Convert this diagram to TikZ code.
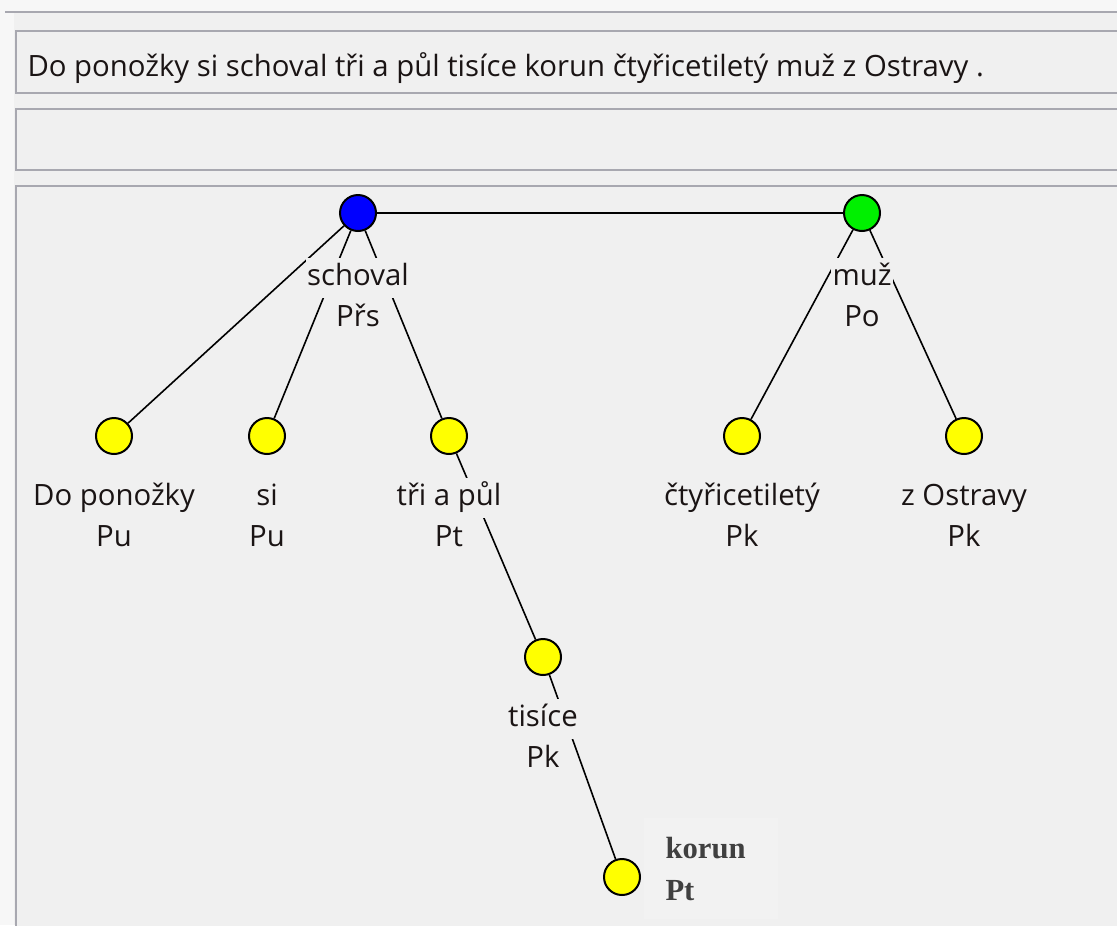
\documentclass[tikz,border=0pt]{standalone}
\usepackage{fontspec}
\usetikzlibrary{positioning}
\setmainfont{Open Sans}
\newfontfamily\boldserif{Liberation Serif}
\definecolor{panelgray}{HTML}{F0F0F0}
\definecolor{outergray}{HTML}{F7F7F7}
\definecolor{framegray}{HTML}{A8A8B0}
\definecolor{textdark}{HTML}{1A1414}
\definecolor{korungray}{HTML}{404040}
\definecolor{dotblue}{HTML}{0000FF}
\definecolor{dotgreen}{HTML}{00F000}
\definecolor{dotyellow}{HTML}{FFFF00}

\tikzset{every picture/.style={line width=0.75pt},
  panel/.style={draw=framegray,line width=2.2pt,fill=panelgray},
  dot/.style={circle,draw=black,line width=1.5pt,inner sep=0pt,minimum size=27pt},
  tree edge/.style={draw=black,line width=1.2pt},
  wlabel/.style={fill=panelgray,inner xsep=1pt,inner ysep=4.5pt,text=textdark,
    text height=16pt,text depth=5pt,font=\fontsize{22}{26}\selectfont},
}

\begin{document}
\begin{tikzpicture}[x=0.75pt,y=0.75pt,yscale=-1,xscale=1]
\useasboundingbox (0,0) rectangle (1117,925);

%Shape: background
\fill [outergray] (0,0) rectangle (1117,925);
\fill [panelgray] (14,13) rectangle (1117,925);
\draw [framegray,line width=2.2pt] (5,12) -- (1117,12);
%Shape: sentence box
\draw [panel] (16,31) -- (1120,31) -- (1120,93) -- (16,93) -- cycle;
%Shape: empty box
\draw [panel] (16,109) -- (1120,109) -- (1120,170) -- (16,170) -- cycle;
%Shape: tree panel
\draw [panel] (16,186) -- (1120,186) -- (1120,930) -- (16,930) -- cycle;

% Text Node
\node [anchor=west,inner sep=0pt,text=textdark,font=\fontsize{22}{26}\selectfont] (sentence) at (27,68)
  {Do ponožky si schoval tři a půl tisíce korun čtyřicetiletý muž z Ostravy .};

%Dots
\node [dot,fill=dotblue] (schoval) at (358,213) {};
\node [dot,fill=dotgreen] (muz) at (862,213) {};
\node [dot,fill=dotyellow] (doponozky) at (114,436) {};
\node [dot,fill=dotyellow] (si) at (267,436) {};
\node [dot,fill=dotyellow] (triapul) at (449,436) {};
\node [dot,fill=dotyellow] (ctyricetilety) at (742,436) {};
\node [dot,fill=dotyellow] (zostravy) at (964,436) {};
\node [dot,fill=dotyellow] (tisice) at (543,657) {};
\node [dot,fill=dotyellow] (korun) at (622,877) {};

%Straight Lines
\draw [tree edge] (schoval) -- (muz);
\draw [tree edge] (schoval) -- (doponozky);
\draw [tree edge] (schoval) -- (si);
\draw [tree edge] (schoval) -- (triapul);
\draw [tree edge] (triapul) -- (tisice);
\draw [tree edge] (tisice) -- (korun);
\draw [tree edge] (muz) -- (ctyricetilety);
\draw [tree edge] (muz) -- (zostravy);

% Text Node
\node [wlabel] (schoval-w) at (358,278) {schoval};
\node [wlabel,below=0pt of schoval-w] (schoval-t) {Přs};
% Text Node
\node [wlabel] (muz-w) at (862,278) {muž};
\node [wlabel,below=0pt of muz-w] (muz-t) {Po};
% Text Node
\node [wlabel] (doponozky-w) at (114,498) {Do ponožky};
\node [wlabel,below=0pt of doponozky-w] (doponozky-t) {Pu};
% Text Node
\node [wlabel] (si-w) at (267,498) {si};
\node [wlabel,below=0pt of si-w] (si-t) {Pu};
% Text Node
\node [wlabel] (triapul-w) at (449,498) {tři a půl};
\node [wlabel,below=0pt of triapul-w] (triapul-t) {Pt};
% Text Node
\node [wlabel] (ctyricetilety-w) at (742,498) {čtyřicetiletý};
\node [wlabel,below=0pt of ctyricetilety-w] (ctyricetilety-t) {Pk};
% Text Node
\node [wlabel] (zostravy-w) at (964,498) {z Ostravy};
\node [wlabel,below=0pt of zostravy-w] (zostravy-t) {Pk};
% Text Node
\node [wlabel] (tisice-w) at (543,719) {tisíce};
\node [wlabel,below=0pt of tisice-w] (tisice-t) {Pk};
% Text Node
\node [anchor=north west,fill=white!15!panelgray,minimum width=101pt,minimum height=76pt,
  inner sep=0pt] (korun-box) at (643,817) {};
\node [anchor=west,align=left,inner sep=0pt,text=korungray,
  font=\boldserif\bfseries\fontsize{23}{31}\selectfont] (korun-l) at (665,869) {korun\\Pt};

\end{tikzpicture}
\end{document}
